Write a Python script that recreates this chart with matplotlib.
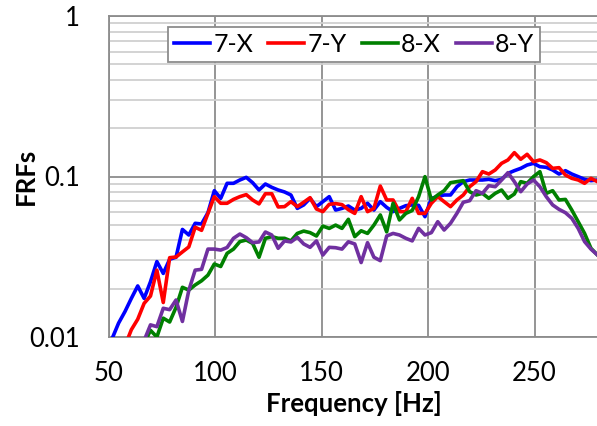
import numpy as np
import matplotlib
matplotlib.use("Agg")
import matplotlib.pyplot as plt
from matplotlib.ticker import FixedLocator, NullFormatter, LogLocator

nan = np.nan

freq_hz = [
    51.5, 54.5, 57.5, 60.5, 63.5, 66.5, 69.5, 72.5, 75.5, 78.5,
    81.5, 84.5, 87.5, 90.5, 93.5, 96.5, 99.5, 102.5, 105.5, 108.5,
    111.5, 114.5, 117.5, 120.5, 123.5, 126.5, 129.5, 132.5, 135.5, 138.5,
    141.5, 144.5, 147.5, 150.5, 153.5, 156.5, 159.5, 162.5, 165.5, 168.5,
    171.5, 174.5, 177.5, 180.5, 183.5, 186.5, 189.5, 192.5, 195.5, 198.5,
    201.5, 204.5, 207.5, 210.5, 213.5, 216.5, 219.5, 222.5, 225.5, 228.5,
    231.5, 234.5, 237.5, 240.5, 243.5, 246.5, 249.5, 252.5, 255.5, 258.5,
    261.5, 264.5, 267.5, 270.5, 273.5, 276.5, 279.5,
]

frf_7x = [
    0.0098, 0.0122, 0.0144, 0.0174, 0.0208, 0.0174, 0.0221, 0.0295, 0.0249, 0.0305,
    0.0314, 0.0468, 0.0432, 0.0511, 0.0506, 0.0595, 0.0816, 0.0731, 0.0907, 0.0907,
    0.0951, 0.0988, 0.0915, 0.0824, 0.0898, 0.0856, 0.0824, 0.0801, 0.0767, 0.0633,
    0.0665, 0.0731, 0.0649, 0.0697, 0.0749, 0.0618, 0.0633, 0.0655, 0.0618, 0.0633,
    0.0681, 0.0618, 0.0697, 0.0642, 0.0604, 0.0633, 0.0658, 0.0665, 0.0661, 0.0562,
    0.0731, 0.0749, 0.0767, 0.0767, 0.0864, 0.0929, 0.0951, 0.0951, 0.0951, 0.0960,
    0.0942, 0.0960, 0.1046, 0.1087, 0.1124, 0.1179, 0.1208, 0.1151, 0.1141, 0.1098,
    0.1036, 0.1087, 0.1036, 0.0998, 0.0960, 0.0942, 0.0951,
]

frf_7y = [
    nan, nan, 0.0088, 0.0111, 0.0129, 0.0162, 0.0180, 0.0261, 0.0164, 0.0312,
    0.0315, 0.0339, 0.0364, 0.0483, 0.0462, 0.0589, 0.0749, 0.0681, 0.0681, 0.0720,
    0.0749, 0.0771, 0.0714, 0.0675, 0.0781, 0.0781, 0.0646, 0.0649, 0.0697, 0.0649,
    0.0691, 0.0738, 0.0627, 0.0604, 0.0671, 0.0678, 0.0668, 0.0621, 0.0589, 0.0749,
    0.0604, 0.0633, 0.0872, 0.0714, 0.0714, 0.0604, 0.0604, 0.0731, 0.0589, 0.0589,
    0.0681, 0.0749, 0.0697, 0.0649, 0.0714, 0.0767, 0.0864, 0.0929, 0.1072, 0.1036,
    0.1098, 0.1208, 0.1268, 0.1408, 0.1280, 0.1375, 0.1237, 0.1268, 0.1220, 0.1124,
    0.1135, 0.1022, 0.0974, 0.0951, 0.0907, 0.0974, 0.0929,
]

frf_8x = [
    nan, nan, nan, nan, nan, 0.0091, 0.0110, 0.0100, 0.0131, 0.0124,
    0.0153, 0.0204, 0.0196, 0.0211, 0.0224, 0.0243, 0.0285, 0.0275, 0.0332, 0.0353,
    0.0393, 0.0402, 0.0383, 0.0314, 0.0412, 0.0422, 0.0412, 0.0412, 0.0397, 0.0442,
    0.0457, 0.0447, 0.0426, 0.0491, 0.0475, 0.0498, 0.0475, 0.0541, 0.0422, 0.0459,
    0.0442, 0.0498, 0.0576, 0.0452, 0.0681, 0.0536, 0.0589, 0.0614, 0.0749, 0.0998,
    0.0714, 0.0767, 0.0816, 0.0915, 0.0929, 0.0942, 0.0804, 0.0767, 0.0785, 0.0731,
    0.0785, 0.0824, 0.0731, 0.0778, 0.0929, 0.0907, 0.0998, 0.1072, 0.0785, 0.0816,
    0.0714, 0.0720, 0.0618, 0.0523, 0.0442, 0.0357, 0.0325,
]

frf_8y = [
    nan, nan, nan, nan, nan, 0.0095, 0.0119, 0.0116, 0.0151, 0.0148,
    0.0170, 0.0125, 0.0195, 0.0261, 0.0264, 0.0353, 0.0353, 0.0348, 0.0361, 0.0412,
    0.0438, 0.0416, 0.0387, 0.0391, 0.0451, 0.0432, 0.0357, 0.0397, 0.0391, 0.0418,
    0.0380, 0.0362, 0.0397, 0.0324, 0.0362, 0.0360, 0.0353, 0.0392, 0.0380, 0.0291,
    0.0387, 0.0314, 0.0299, 0.0426, 0.0442, 0.0432, 0.0412, 0.0397, 0.0475, 0.0432,
    0.0447, 0.0523, 0.0464, 0.0511, 0.0589, 0.0691, 0.0707, 0.0816, 0.0785, 0.0877,
    0.0864, 0.0951, 0.1057, 0.0929, 0.0804, 0.0898, 0.0951, 0.0864, 0.0749, 0.0665,
    0.0624, 0.0595, 0.0549, 0.0475, 0.0393, 0.0353, 0.0325,
]

series_labels = ["7-X", "7-Y", "8-X", "8-Y"]
series_colors = ["#0000FF", "#FF0000", "#008000", "#7030A0"]
x_ticks = [50, 100, 150, 200, 250]
y_ticks = [0.01, 0.1, 1]
y_tick_labels = ["0.01", "0.1", "1"]

plt.rcParams["font.family"] = ["Lato", "DejaVu Sans"]

fig = plt.figure(figsize=(5.97, 4.26), dpi=100)
ax = fig.add_axes([109 / 597, 89 / 426, 489.4 / 597, 321 / 426])

major_grey = "#8c8c8c"
minor_grey = "#d0d0d0"

ax.set_yscale("log")
ax.set_xlim(50, 280)
ax.set_ylim(0.01, 1)

# grid: darker decades and x majors, lighter log minors
ax.yaxis.set_minor_locator(LogLocator(base=10, subs=np.arange(2, 10)))
ax.yaxis.set_minor_formatter(NullFormatter())
ax.grid(True, which="minor", axis="y", color=minor_grey, linewidth=1.3, zorder=0)
ax.grid(True, which="major", axis="y", color=major_grey, linewidth=1.3, zorder=0)
ax.grid(True, which="major", axis="x", color=major_grey, linewidth=1.3, zorder=0)
ax.set_axisbelow(True)

for data, label, color in zip([frf_7x, frf_7y, frf_8x, frf_8y], series_labels, series_colors):
    ax.plot(freq_hz, data, color=color, linewidth=2.6, label=label,
            solid_joinstyle="round", zorder=3)

ax.xaxis.set_major_locator(FixedLocator(x_ticks))
ax.set_xticklabels([str(t) for t in x_ticks])
ax.yaxis.set_major_locator(FixedLocator(y_ticks))
ax.set_yticklabels(y_tick_labels)
ax.tick_params(axis="both", which="both", length=0, labelsize=18.5, colors="black")
ax.tick_params(axis="x", pad=17)
ax.tick_params(axis="y", pad=21)

for side in ["left", "bottom", "top"]:
    ax.spines[side].set_color(major_grey)
    ax.spines[side].set_linewidth(1.3)
ax.spines["right"].set_visible(False)

ax.set_xlabel("Frequency [Hz]", fontsize=18.5, fontweight="bold", labelpad=4)
ax.set_ylabel("FRFs", fontsize=18.5, fontweight="bold", labelpad=-6)

leg = ax.legend(loc="upper left", bbox_to_anchor=(0.12, 0.966), ncol=4,
                frameon=True, fancybox=False, fontsize=18, borderaxespad=0,
                handlelength=1.45, handletextpad=0.12, columnspacing=0.6,
                borderpad=0.25)
leg.get_frame().set_edgecolor(major_grey)
leg.get_frame().set_linewidth(1.3)
leg.get_frame().set_facecolor("white")
leg.get_frame().set_alpha(1)

fig.savefig("out.png", dpi=100)
